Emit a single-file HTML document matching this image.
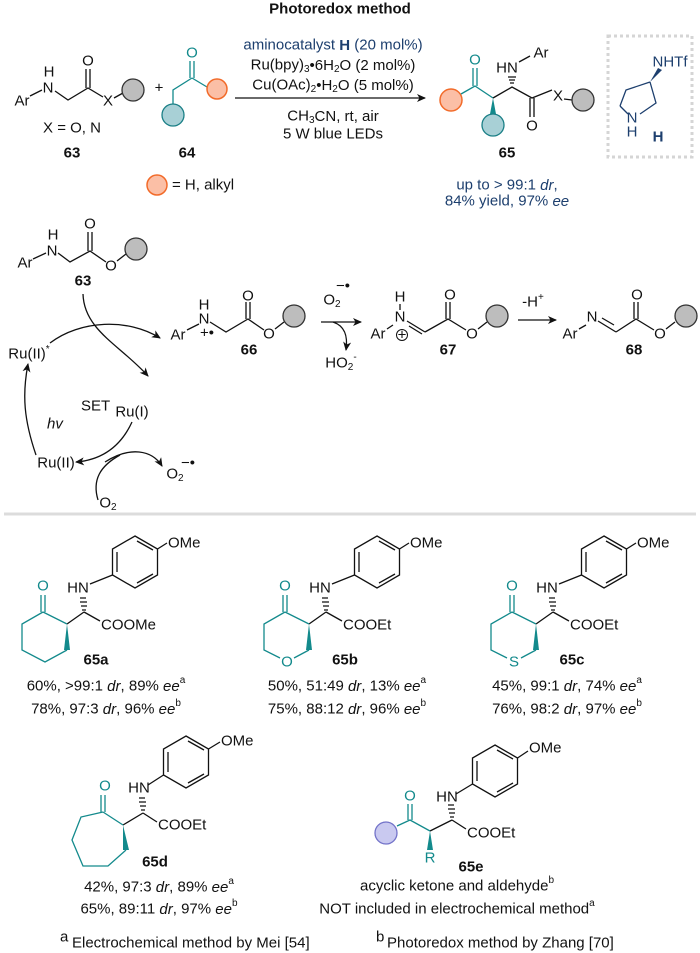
<!DOCTYPE html>
<html><head><meta charset="utf-8"><style>
html,body{margin:0;padding:0;background:#fff}
svg{display:block}
text{font-family:"Liberation Sans",Arial,sans-serif;font-size:15px;fill:#111;dominant-baseline:central}
.b{font-weight:bold}
.c{text-anchor:middle}
.bl{fill:#1d3f6e}
.t{fill:#138a8c}
.k{stroke:#111;stroke-width:1.3;fill:none}
.tl{stroke:#138a8c;stroke-width:1.3;fill:none}
.a{stroke:#111;stroke-width:1.3;fill:none;marker-end:url(#ah)}
</style></head><body>
<svg width="700" height="953" viewBox="0 0 700 953" xmlns="http://www.w3.org/2000/svg">
<defs>
<marker id="ah" markerWidth="10" markerHeight="8" refX="8" refY="4" orient="auto" markerUnits="userSpaceOnUse"><path d="M0,0 L9,4 L0,8 L2.5,4z" fill="#111"/></marker>
<g id="ph">
<path class="k" d="M0,-26 L22.5,-13 L22.5,13 L0,26 L-22.5,13 L-22.5,-13Z"/>
<path class="k" d="M2,-21 L18,-12 M18,12 L2,21 M-18,10 L-18,-10"/>
</g>
</defs>

<text x="340" y="9" class="c b">Photoredox method</text>

<!-- 63 top -->
<text x="22" y="101" class="c">Ar</text>
<text x="49" y="72" class="c">H</text>
<text x="48" y="88" class="c">N</text>
<path class="k" d="M30,96 L42,90 M55,91 L68,100 L88,88 L103,97 M86,88 L86,69 M90,88 L90,69"/>
<text x="88" y="61" class="c">O</text>
<text x="108" y="101" class="c">X</text>
<path class="k" d="M114,98 L123,93"/>
<circle cx="133" cy="90" r="11" fill="#bdbdbd" stroke="#333" stroke-width="1.3"/>
<text x="159" y="88" class="c">+</text>
<!-- 64 -->
<text x="192" y="53" class="c t">O</text>
<path class="tl" d="M190,78 L190,61 M194,78 L194,61 M192,78 L207,87 M192,78 L173,90 L173,104"/>
<circle cx="217" cy="89" r="10" fill="#fbbfa6" stroke="#f26b2a" stroke-width="1.5"/>
<circle cx="173" cy="115" r="11" fill="#a8d0d6" stroke="#1a7f86" stroke-width="1.3"/>
<text x="72" y="128" class="c">X = O, N</text>
<text x="72" y="153" class="c b">63</text>
<text x="187" y="153" class="c b">64</text>
<circle cx="157" cy="185" r="10" fill="#fbbfa6" stroke="#f26b2a" stroke-width="1.5"/>
<text x="172" y="185">= H, alkyl</text>

<!-- conditions -->
<text x="333" y="45" class="c bl">aminocatalyst <tspan class="b">H</tspan> (20 mol%)</text>
<text x="333" y="65" class="c">Ru(bpy)<tspan font-size="10" dy="4">3</tspan><tspan dy="-4">•6H</tspan><tspan font-size="10" dy="4">2</tspan><tspan dy="-4">O (2 mol%)</tspan></text>
<text x="333" y="85" class="c">Cu(OAc)<tspan font-size="10" dy="4">2</tspan><tspan dy="-4">•H</tspan><tspan font-size="10" dy="4">2</tspan><tspan dy="-4">O (5 mol%)</tspan></text>
<path class="a" d="M235,98 L425,98"/>
<text x="333" y="116" class="c">CH<tspan font-size="10" dy="4">3</tspan><tspan dy="-4">CN, rt, air</tspan></text>
<text x="333" y="134" class="c">5 W blue LEDs</text>

<!-- 65 product -->
<circle cx="451" cy="100" r="11" fill="#fbbfa6" stroke="#f26b2a" stroke-width="1.5"/>
<text x="475" y="60" class="c t">O</text>
<path class="tl" d="M461,94 L475,86 L493,98 M473,86 L473,68 M477,86 L477,68"/>
<path d="M493,98 L490,114 L496,114Z" fill="#138a8c"/>
<circle cx="493" cy="125" r="11" fill="#a8d0d6" stroke="#1a7f86" stroke-width="1.3"/>
<path class="k" d="M493,98 L512,87 L532,98 L552,90 M530,98 L530,117 M534,98 L534,117"/>
<path class="k" d="M508,77 L516,77 M509,80 L515,80 M510,83 L514,83" stroke-width="1.2"/>
<text x="507" y="68" class="c">HN</text>
<path class="k" d="M519,62 L530,56"/>
<text x="541" y="53" class="c">Ar</text>
<text x="558" y="96" class="c">X</text>
<text x="532" y="126" class="c">O</text>
<path class="k" d="M564,99 L572,100"/>
<circle cx="583" cy="100" r="11" fill="#bdbdbd" stroke="#333" stroke-width="1.3"/>
<text x="507" y="153" class="c b">65</text>
<text x="507" y="185" class="c bl">up to &gt; 99:1 <tspan font-style="italic">dr</tspan>,</text>
<text x="507" y="201" class="c bl">84% yield, 97% <tspan font-style="italic">ee</tspan></text>
<!-- catalyst box -->
<rect x="608" y="36" width="84" height="121" fill="none" stroke="#d5d5d5" stroke-width="3" stroke-dasharray="3,3"/>
<text x="670" y="62" class="c bl">NHTf</text>
<path d="M650,82 L658,68 L662,70Z" fill="#1d3f6e"/>
<path d="M650,82 L626,90 L620,106 M650,82 L656,103 L640,114" stroke="#1d3f6e" stroke-width="1.3" fill="none"/>
<path d="M620,106 L628,114" stroke="#1d3f6e" stroke-width="1.3"/>
<text x="632" y="118" class="c bl">N</text>
<text x="632" y="132" class="c bl">H</text>
<text x="658" y="137" class="c bl b">H</text>

<!-- mechanism 63 -->
<text x="25" y="263" class="c">Ar</text>
<text x="53" y="235" class="c">H</text>
<text x="52" y="251" class="c">N</text>
<path class="k" d="M33,259 L46,253 M58,253 L70,262 L90,251 L106,262 M88,251 L88,232 M92,251 L92,232"/>
<text x="90" y="224" class="c">O</text>
<text x="111" y="266" class="c">O</text>
<path class="k" d="M117,261 L126,254"/>
<circle cx="136" cy="249" r="11" fill="#bdbdbd" stroke="#333" stroke-width="1.3"/>
<text x="83" y="281" class="c b">63</text>

<!-- cycle -->
<path class="a" d="M83,294 C84,330 120,345 148,376"/>
<path class="a" d="M50,343 C80,320 128,318 160,338"/>
<text x="29" y="354" class="c">Ru(II)<tspan font-size="10" dy="-5">*</tspan></text>
<text x="81" y="406">SET</text>
<text x="132" y="412" class="c">Ru(I)</text>
<text x="47" y="424" font-style="italic">hv</text>
<path class="a" d="M36,455 C24,420 22,395 28,364"/>
<path class="a" d="M132,422 C120,448 100,460 76,462"/>
<text x="56" y="463" class="c">Ru(II)</text>
<path class="k" d="M98,500 C92,480 100,466 120,455"/>
<path class="a" d="M105,462 C130,446 152,450 162,466"/>
<text x="175" y="474" class="c">O<tspan font-size="10" dy="4">2</tspan></text>
<text x="181" y="463" font-size="11">−•</text>
<text x="108" y="503" class="c">O<tspan font-size="10" dy="4">2</tspan></text>

<!-- 66 -->
<text x="178" y="335" class="c">Ar</text>
<text x="204" y="305" class="c">H</text>
<text x="204" y="319" class="c">N</text>
<text x="207" y="333" class="c" font-size="10">+•</text>
<path class="k" d="M187,330 L199,324 M210,322 L226,332 L248,319 L264,330 M246,319 L246,302 M250,319 L250,302"/>
<text x="248" y="296" class="c">O</text>
<text x="269" y="334" class="c">O</text>
<path class="k" d="M275,329 L284,322"/>
<circle cx="294" cy="316" r="11" fill="#bdbdbd" stroke="#333" stroke-width="1.3"/>
<text x="249" y="350" class="c b">66</text>
<path class="a" d="M321,322 L361,322"/>
<text x="332" y="300" class="c">O<tspan font-size="10" dy="4">2</tspan></text>
<text x="336" y="286" font-size="11">−•</text>
<path class="a" d="M333,322 C345,326 348,336 346,350"/>
<text x="341" y="363" class="c">HO<tspan font-size="10" dy="4">2</tspan><tspan font-size="10" dy="-10">-</tspan></text>

<!-- 67 -->
<text x="378" y="334" class="c">Ar</text>
<text x="400" y="297" class="c">H</text>
<path class="k" d="M400,304 L400,310"/>
<text x="400" y="317" class="c">N</text>
<circle cx="402" cy="335" r="5.5" fill="none" stroke="#111" stroke-width="1"/>
<text x="402" y="335" class="c" font-size="10">+</text>
<path class="k" d="M387,329 L393,325 M407,321 L425,332 M409,326 L422,334 M425,332 L448,319 L466,330 M446,319 L446,302 M450,319 L450,302"/>
<text x="450" y="295" class="c">O</text>
<text x="472" y="334" class="c">O</text>
<path class="k" d="M478,329 L487,322"/>
<circle cx="497" cy="316" r="11" fill="#bdbdbd" stroke="#333" stroke-width="1.3"/>
<text x="448" y="350" class="c b">67</text>
<text x="533" y="302" class="c">-H<tspan font-size="10" dy="-5">+</tspan></text>
<path class="a" d="M518,320 L556,320"/>

<!-- 68 -->
<text x="570" y="334" class="c">Ar</text>
<text x="592" y="317" class="c">N</text>
<path class="k" d="M579,329 L586,325 M598,321 L616,332 M602,318 L614,325 M616,332 L636,319 L654,330 M634,319 L634,302 M638,319 L638,302"/>
<text x="637" y="295" class="c">O</text>
<text x="660" y="334" class="c">O</text>
<path class="k" d="M666,329 L675,322"/>
<circle cx="686" cy="316" r="11" fill="#bdbdbd" stroke="#333" stroke-width="1.3"/>
<text x="634" y="350" class="c b">68</text>

<line x1="4" y1="514" x2="696" y2="514" stroke="#dcdcdc" stroke-width="3"/>

<!-- 65a template -->
<g id="ca">
<use href="#ph" x="135" y="562"/>
<path class="k" d="M157.5,549 L167,543 M112.5,575 L90,584 M84,612 L100,621 M84,612 L67,624"/>
<path class="k" d="M80,598 L86,598 M80,602 L87,602 M81,606 L87,606 M82,610 L86,610" stroke-width="1.1"/>
<text x="168" y="543">OMe</text>
<text x="78" y="588" class="c">HN</text>
<text x="43" y="586" class="c t">O</text>
<path class="tl" d="M41,612 L41,595 M45,612 L45,595"/>
<path d="M67,624 L64,650 L70,650Z" fill="#138a8c"/>
</g>
<path class="tl" d="M43,612 L67,624 M67,650 L45,662 L22,650 L22,624 L43,612"/>
<text x="101" y="625">COOMe</text>
<text x="96" y="660" class="c b">65a</text>
<text x="106" y="686" class="c">60%, &gt;99:1 <tspan font-style="italic">dr</tspan>, 89% <tspan font-style="italic">ee</tspan><tspan font-size="10" dy="-6">a</tspan></text>
<text x="106" y="709" class="c">78%, 97:3 <tspan font-style="italic">dr</tspan>, 96% <tspan font-style="italic">ee</tspan><tspan font-size="10" dy="-6">b</tspan></text>

<!-- 65b -->
<use href="#ca" x="242" y="0"/>
<path class="tl" d="M285,612 L309,624 M309,650 L294,658 M280,658 L264,650 L264,624 L285,612"/>
<text x="287" y="662" class="c t">O</text>
<text x="343" y="625">COOEt</text>
<text x="345" y="660" class="c b">65b</text>
<text x="347" y="686" class="c">50%, 51:49 <tspan font-style="italic">dr</tspan>, 13% <tspan font-style="italic">ee</tspan><tspan font-size="10" dy="-6">a</tspan></text>
<text x="347" y="709" class="c">75%, 88:12 <tspan font-style="italic">dr</tspan>, 96% <tspan font-style="italic">ee</tspan><tspan font-size="10" dy="-6">b</tspan></text>

<!-- 65c -->
<use href="#ca" x="469" y="0"/>
<path class="tl" d="M512,612 L536,624 M536,650 L521,658 M507,658 L491,650 L491,624 L512,612"/>
<text x="514" y="662" class="c t">S</text>
<text x="570" y="625">COOEt</text>
<text x="572" y="660" class="c b">65c</text>
<text x="567" y="686" class="c">45%, 99:1 <tspan font-style="italic">dr</tspan>, 74% <tspan font-style="italic">ee</tspan><tspan font-size="10" dy="-6">a</tspan></text>
<text x="567" y="709" class="c">76%, 98:2 <tspan font-style="italic">dr</tspan>, 97% <tspan font-style="italic">ee</tspan><tspan font-size="10" dy="-6">b</tspan></text>

<!-- 65d -->
<use href="#ph" x="186" y="762"/>
<path class="k" d="M208.5,749 L220,742 M163.5,775 L148,785 M143,813 L157,822 M143,813 L123,825"/>
<path class="k" d="M139,798 L145,798 M139,802 L146,802 M140,806 L146,806 M141,810 L145,810" stroke-width="1.1"/>
<text x="221" y="741">OMe</text>
<text x="139" y="788" class="c">HN</text>
<text x="105" y="786" class="c t">O</text>
<path class="tl" d="M101,812 L101,795 M105,812 L105,795"/>
<path class="tl" d="M103,812 L123,825 M126,850 L108,866 L83,866 L72,840 L81,817 L103,812"/>
<path d="M123,825 L123,850 L129,850Z" fill="#138a8c"/>
<text x="158" y="825">COOEt</text>
<text x="155" y="862" class="c b">65d</text>
<text x="159" y="887" class="c">42%, 97:3 <tspan font-style="italic">dr</tspan>, 89% <tspan font-style="italic">ee</tspan><tspan font-size="10" dy="-6">a</tspan></text>
<text x="159" y="909" class="c">65%, 89:11 <tspan font-style="italic">dr</tspan>, 97% <tspan font-style="italic">ee</tspan><tspan font-size="10" dy="-6">b</tspan></text>

<!-- 65e -->
<use href="#ph" x="495" y="771"/>
<path class="k" d="M517.5,758 L528,751 M472.5,784 L456,794 M452,820 L466,829 M452,820 L430,831"/>
<path class="k" d="M448,805 L454,805 M448,809 L455,809 M449,813 L455,813 M450,817 L454,817" stroke-width="1.1"/>
<text x="529" y="748">OMe</text>
<text x="447" y="797" class="c">HN</text>
<text x="410" y="796" class="c t">O</text>
<path class="tl" d="M408,820 L408,804 M412,820 L412,804 M397,826 L410,820 L430,831"/>
<path d="M430,831 L427,850 L433,850Z" fill="#138a8c"/>
<text x="430" y="858" class="c t">R</text>
<circle cx="386" cy="833" r="11" fill="#c9c9f0" stroke="#7373c9" stroke-width="1.3"/>
<text x="467" y="833">COOEt</text>
<text x="471" y="867" class="c b">65e</text>
<text x="457" y="886" class="c">acyclic ketone and aldehyde<tspan font-size="10" dy="-6">b</tspan></text>
<text x="457" y="909" class="c">NOT included in electrochemical method<tspan font-size="10" dy="-6">a</tspan></text>

<text x="60" y="943" font-size="10" dy="-6">a</text>
<text x="72" y="943">Electrochemical method by Mei [54]</text>
<text x="376" y="943" font-size="10" dy="-6">b</text>
<text x="387" y="943">Photoredox method by Zhang [70]</text>
</svg>
</body></html>
